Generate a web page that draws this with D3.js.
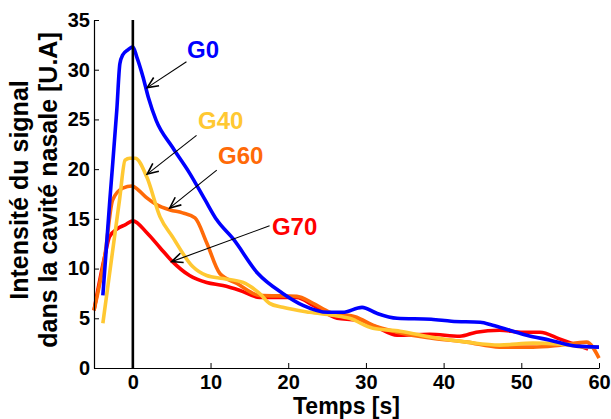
<!DOCTYPE html>
<html>
<head>
<meta charset="utf-8">
<script src="https://cdn.jsdelivr.net/npm/d3@7"></script>
<style>
  html, body { margin: 0; padding: 0; background: #fff; }
  svg { display: block; font-family: Arial, "Liberation Sans", Helvetica, sans-serif; }
</style>
</head>
<body>
<svg id="chart" width="611" height="419"></svg>
<script>
// ---- data ----
const xTicks = [0, 10, 20, 30, 40, 50, 60];
const yTicks = [0, 5, 10, 15, 20, 25, 30, 35];

const g0T = [-3.86, -2.96, -2.06, -1.67, -1.29, -0.64, 0, 0.5, 1.3, 2, 3, 5.1, 7.3, 9.3, 10.8, 12.9, 16.1, 19.3, 21.9, 25.1, 27, 29.5, 31.4, 34, 38.4, 41, 44.7, 46.3, 48.5, 50.7, 53.7, 57.1, 60];
const g0V = [7.3, 16.9, 26, 30.6, 31.5, 32, 32.3, 31.3, 29.3, 27.2, 24.9, 22.2, 19.6, 16.9, 14.9, 13, 9.5, 7.5, 6.3, 5.6, 5.6, 6.1, 5.5, 5.0, 4.9, 4.7, 4.6, 4.3, 3.8, 3.3, 2.8, 2.2, 2.1];

const g40T = [-3.86, -1.7, -1.0, -0.4, 0.3, 1.8, 3.5, 5.1, 7.7, 9.5, 11.6, 14.2, 16.3, 17.6, 19.3, 22.8, 25.7, 27.9, 30.9, 34.4, 38.5, 43, 47.2, 51.5, 55, 58.4, 60];
const g40V = [4.5, 17.0, 20.9, 21.1, 21.1, 19.2, 15.2, 13.2, 10.2, 9.3, 9.0, 8.6, 7.5, 6.5, 6.1, 5.6, 5.3, 5.0, 4.0, 3.7, 3.1, 2.6, 2.3, 2.5, 2.4, 2.1, 2.1];

const g60T = [-5, -3.6, -2.6, -1.3, -0.1, 0.7, 1.8, 3.1, 4.8, 6.4, 8, 9.5, 11.2, 13.4, 16.3, 21.1, 23.2, 25.4, 28.8, 30.9, 34, 38.5, 43, 47.2, 51.5, 55, 58.4, 60];
const g60V = [5.8, 11.3, 16.9, 18.1, 18.3, 17.9, 17.1, 16.4, 15.9, 15.6, 15.1, 12.6, 9.5, 8.5, 7.3, 7.2, 6.5, 5.6, 5.1, 4.3, 3.6, 3.0, 2.6, 2.1, 2.1, 2.3, 2.6, 1.0];

const g70T = [-5, -3.6, -3.0, -2.0, -1.0, 0, 1.8, 3.5, 5.1, 7.3, 9.5, 11.6, 13.8, 16.3, 21.1, 23.2, 26.3, 28.8, 31.4, 34, 38.2, 42.1, 44.2, 47.2, 50.2, 52.4, 55, 58.6];
const g70V = [5.8, 11.3, 13.2, 14.0, 14.4, 14.8, 13.6, 12.1, 10.7, 9.3, 8.6, 8.3, 7.8, 7.1, 7.1, 6.3, 5.0, 4.8, 4.1, 3.3, 3.4, 3.2, 3.6, 3.8, 3.6, 3.6, 2.9, 1.9];

const seriesNames = ["G0", "G40", "G60", "G70"];
const seriesColors = ["#0000ff", "#ffc832", "#ff6a08", "#ff0000"];
const seriesT = [g0T, g40T, g60T, g70T];
const seriesV = [g0V, g40V, g60V, g70V];

// annotation positions (data units): label anchor, arrow start, arrow tip
const labelPos = [[6.97, 31.2], [8.39, 24.0], [10.96, 20.5], [17.9, 13.4]];
const arrowFrom = [[6.9, 30.8], [8.2, 23.4], [10.8, 19.9], [17.6, 14.3]];
const arrowTo = [[1.85, 28.2], [1.85, 19.5], [4.75, 16.1], [5.0, 10.7]];

// ---- layout ----
const svg = d3.select("#chart");
const x = d3.scaleLinear().domain([-5, 60]).range([94, 599]);
const y = d3.scaleLinear().domain([0, 35]).range([368, 20]);

// curves: draw red, orange, yellow, blue (blue on top)
const line = d3.line().x(d => x(d[0])).y(d => y(d[1])).curve(d3.curveMonotoneX);
const order = [3, 2, 1, 0];
order.forEach(i => {
  const pts = seriesT[i].map((t, j) => [t, seriesV[i][j]]);
  svg.append("path")
    .attr("d", line(pts))
    .attr("fill", "none")
    .attr("stroke", seriesColors[i])
    .attr("stroke-width", 3.6)
    .attr("stroke-linejoin", "round")
    .attr("stroke-linecap", "butt");
});

// vertical line at t = 0
svg.append("line")
  .attr("x1", x(0)).attr("x2", x(0))
  .attr("y1", y(35)).attr("y2", y(0))
  .attr("stroke", "#000").attr("stroke-width", 2.6);

// axes
const xAxis = d3.axisBottom(x).tickValues(xTicks).tickSizeInner(-5).tickSizeOuter(0).tickPadding(7);
const yAxis = d3.axisLeft(y).tickValues(yTicks).tickSizeInner(-5).tickSizeOuter(0).tickPadding(4);

const gx = svg.append("g").attr("transform", `translate(0,${y(0)})`).call(xAxis);
const gy = svg.append("g").attr("transform", `translate(${x(-5)},0)`).call(yAxis);
[gx, gy].forEach(g => {
  g.select(".domain").attr("stroke", "#000").attr("stroke-width", 1.2);
  g.selectAll(".tick line").attr("stroke", "#000").attr("stroke-width", 1);
  g.selectAll(".tick text")
    .attr("fill", "#000")
    .style("font-size", "20px")
    .style("font-weight", "bold")
    .style("font-family", 'Arial, "Liberation Sans", Helvetica, sans-serif');
});
gx.selectAll(".tick text").attr("dy", "0.71em");

// axis titles
svg.append("text")
  .attr("x", (x(-5) + x(60)) / 2).attr("y", 413.5)
  .attr("text-anchor", "middle")
  .style("font-size", "23px").style("font-weight", "bold")
  .text("Temps [s]");

const yc = 190;
svg.append("text")
  .attr("transform", `translate(28,${yc}) rotate(-90)`)
  .attr("text-anchor", "middle")
  .style("font-size", "25px").style("font-weight", "bold")
  .text("Intensité du signal");
svg.append("text")
  .attr("transform", `translate(57,${yc}) rotate(-90)`)
  .attr("text-anchor", "middle")
  .style("font-size", "25px").style("font-weight", "bold")
  .text("dans la cavité nasale [U.A]");

// annotations
seriesNames.forEach((name, i) => {
  svg.append("text")
    .attr("x", x(labelPos[i][0])).attr("y", y(labelPos[i][1]))
    .attr("fill", seriesColors[i])
    .style("font-size", "24px").style("font-weight", "bold")
    .text(name);

  const x1 = x(arrowFrom[i][0]), y1 = y(arrowFrom[i][1]);
  const x2 = x(arrowTo[i][0]), y2 = y(arrowTo[i][1]);
  svg.append("line")
    .attr("x1", x1).attr("y1", y1).attr("x2", x2).attr("y2", y2)
    .attr("stroke", "#000").attr("stroke-width", 1.1);
  const ang = Math.atan2(y2 - y1, x2 - x1);
  const L = 12, a = 0.42;
  const p1 = [x2 - L * Math.cos(ang - a), y2 - L * Math.sin(ang - a)];
  const p2 = [x2 - L * Math.cos(ang + a), y2 - L * Math.sin(ang + a)];
  svg.append("path")
    .attr("d", `M${p1[0]},${p1[1]}L${x2},${y2}L${p2[0]},${p2[1]}`)
    .attr("fill", "none").attr("stroke", "#000").attr("stroke-width", 1.6)
    .attr("stroke-linejoin", "miter");
});
</script>
</body>
</html>
